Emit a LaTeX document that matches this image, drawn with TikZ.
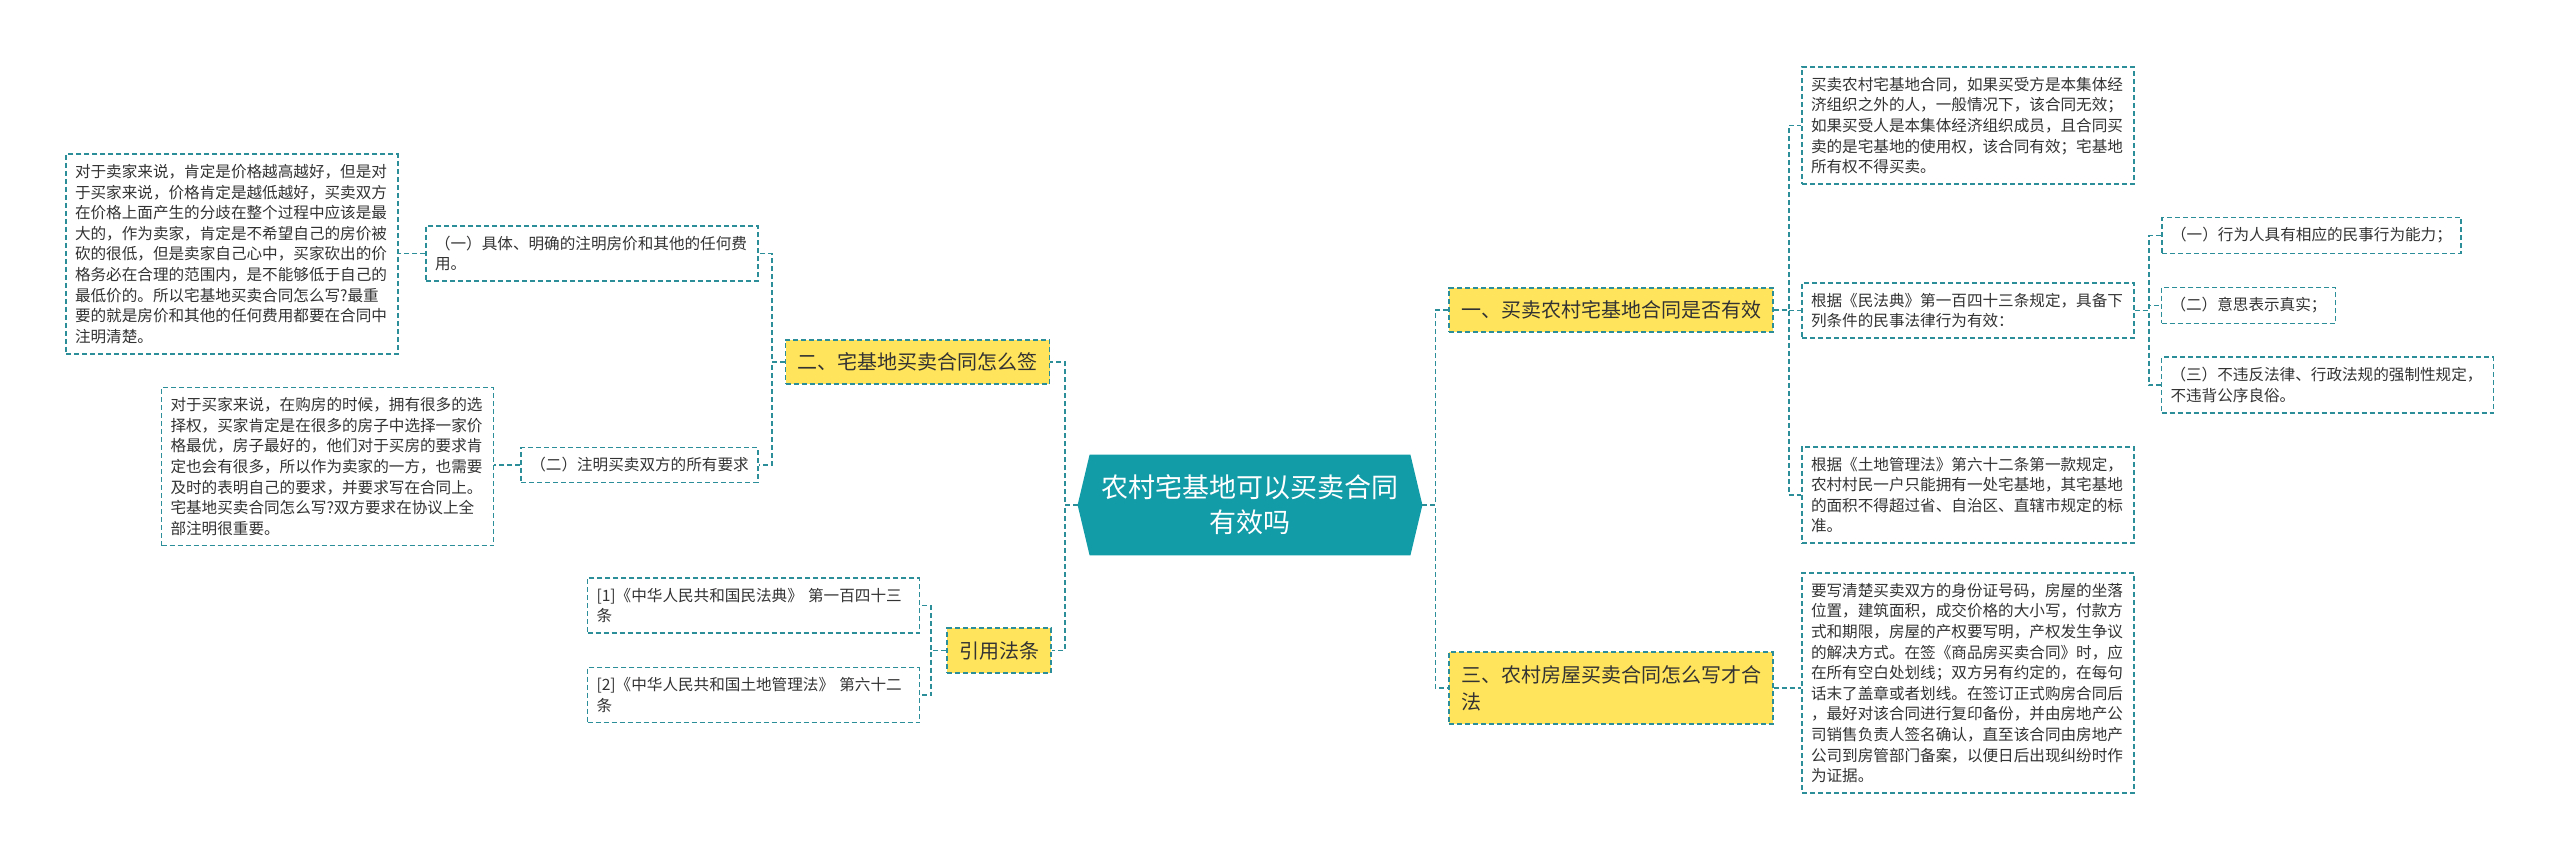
\documentclass[tikz,border=0pt]{standalone}
\usepackage{fontspec}
\setmainfont{Noto Sans CJK SC}
\usetikzlibrary{backgrounds}

\definecolor{linkteal}{HTML}{2B8E98}
\definecolor{hubteal}{HTML}{129CA8}
\definecolor{topicyellow}{HTML}{FFE45C}
\definecolor{textgray}{HTML}{333333}

\begin{document}
\begin{tikzpicture}[x=0.5pt, y=-0.5pt,
    hub/.style={minimum width=160pt, minimum height=50pt, align=center, text=white, font=\fontsize{13.5}{17.5}\selectfont},
    topic/.style={rectangle, draw=linkteal, fill=topicyellow, line width=0.9pt, dash pattern=on 2.5pt off 1.5pt, align=left, inner xsep=6pt, inner ysep=6.5pt, text=textgray, font=\fontsize{10}{13.5}\selectfont},
    note/.style={rectangle, draw=linkteal, line width=0.9pt, dash pattern=on 2.5pt off 1.5pt, align=left, inner xsep=4.5pt, inner ysep=5pt, text=textgray, font=\fontsize{7.8}{10.3}\selectfont},
    notewide/.style={note, text width=157pt},
    link/.style={draw=linkteal, line width=0.9pt, dash pattern=on 2.5pt off 1.5pt}]

\useasboundingbox (0,0) rectangle (2560,863);

% Centre node
\node[hub] (hub) at (1250,505) {农村宅基地可以买卖合同\\有效吗};
\coordinate (hubL) at ([xshift=-6pt]hub.west);
\coordinate (hubR) at ([xshift=6pt]hub.east);
\begin{scope}[on background layer]
\fill[white] (0,0) rectangle (2560,863);
\fill[hubteal] (hubL) -- (hub.north west) -- (hub.north east) -- (hubR) -- (hub.south east) -- (hub.south west) -- cycle;
\end{scope}

% Left side
\node[topic] (sign) at (917.5,362) {二、宅基地买卖合同怎么签};
\node[notewide] (price) at (592,253.5) {（一）具体、明确的注明房价和其他的任何费\\用。};
\node[note] (needs) at (639.5,465) {（二）注明买卖双方的所有要求};
\node[notewide] (priceNote) at (232,254) {对于卖家来说，肯定是价格越高越好，但是对\\于买家来说，价格肯定是越低越好，买卖双方\\在价格上面产生的分歧在整个过程中应该是最\\大的，作为卖家，肯定是不希望自己的房价被\\砍的很低，但是卖家自己心中，买家砍出的价\\格务必在合理的范围内，是不能够低于自己的\\最低价的。所以宅基地买卖合同怎么写?最重\\要的就是房价和其他的任何费用都要在合同中\\注明清楚。};
\node[notewide] (needsNote) at (327.5,466.5) {对于买家来说，在购房的时候，拥有很多的选\\择权，买家肯定是在很多的房子中选择一家价\\格最优，房子最好的，他们对于买房的要求肯\\定也会有很多，所以作为卖家的一方，也需要\\及时的表明自己的要求，并要求写在合同上。\\宅基地买卖合同怎么写?双方要求在协议上全\\部注明很重要。};
\node[topic] (laws) at (999,650.5) {引用法条};
\node[notewide] (law1) at (753.5,605.5) {[1]《中华人民共和国民法典》 第一百四十三\\条};
\node[notewide] (law2) at (753.5,695) {[2]《中华人民共和国土地管理法》 第六十二\\条};

% Right side
\node[topic] (valid) at (1611,310) {一、买卖农村宅基地合同是否有效};
\node[notewide] (validA) at (1968,125.5) {买卖农村宅基地合同，如果买受方是本集体经\\济组织之外的人，一般情况下，该合同无效；\\如果买受人是本集体经济组织成员，且合同买\\卖的是宅基地的使用权，该合同有效；宅基地\\所有权不得买卖。};
\node[notewide] (validB) at (1968,310.5) {根据《民法典》第一百四十三条规定，具备下\\列条件的民事法律行为有效：};
\node[notewide] (validC) at (1968,495) {根据《土地管理法》第六十二条第一款规定，\\农村村民一户只能拥有一处宅基地，其宅基地\\的面积不得超过省、自治区、直辖市规定的标\\准。};
\node[note] (cond1) at (2311.5,235.5) {（一）行为人具有相应的民事行为能力；};
\node[note] (cond2) at (2248.5,305.5) {（二）意思表示真实；};
\node[notewide] (cond3) at (2327.5,385) {（三）不违反法律、行政法规的强制性规定，\\不违背公序良俗。};
\node[topic] (house) at (1611,688) {三、农村房屋买卖合同怎么写才合\\法};
\node[notewide] (houseNote) at (1968,683) {要写清楚买卖双方的身份证号码，房屋的坐落\\位置，建筑面积，成交价格的大小写，付款方\\式和期限，房屋的产权要写明，产权发生争议\\的解决方式。在签《商品房买卖合同》时，应\\在所有空白处划线；双方另有约定的，在每句\\话末了盖章或者划线。在签订正式购房合同后\\，最好对该合同进行复印备份，并由房地产公\\司销售负责人签名确认，直至该合同由房地产\\公司到房管部门备案，以便日后出现纠纷时作\\为证据。};

% Links
\draw[link] (hubL) -- ++(-6.5pt,0) |- (sign.east);
\draw[link] (hubL) -- ++(-6.5pt,0) |- (laws.east);
\draw[link] (hubR) -- ++(6.5pt,0) |- (valid.west);
\draw[link] (hubR) -- ++(6.5pt,0) |- (house.west);
\draw[link] (sign.west) -- ++(-6.5pt,0) |- (price.east);
\draw[link] (sign.west) -- ++(-6.5pt,0) |- (needs.east);
\draw[link] (price.west) -- (price.west -| priceNote.east);
\draw[link] (needs.west) -- (needs.west -| needsNote.east);
\draw[link] (laws.west) -- ++(-7.5pt,0) |- (law1.east);
\draw[link] (laws.west) -- ++(-7.5pt,0) |- (law2.east);
\draw[link] (valid.east) -- ++(7.5pt,0) |- (validA.west);
\draw[link] (valid.east) -- ++(7.5pt,0) |- (validB.west);
\draw[link] (valid.east) -- ++(7.5pt,0) |- (validC.west);
\draw[link] (validB.east) -- ++(7pt,0) |- (cond1.west);
\draw[link] (validB.east) -- ++(7pt,0) |- (cond2.west);
\draw[link] (validB.east) -- ++(7pt,0) |- (cond3.west);
\draw[link] (house.east) -- (house.east -| houseNote.west);

\end{tikzpicture}
\end{document}
